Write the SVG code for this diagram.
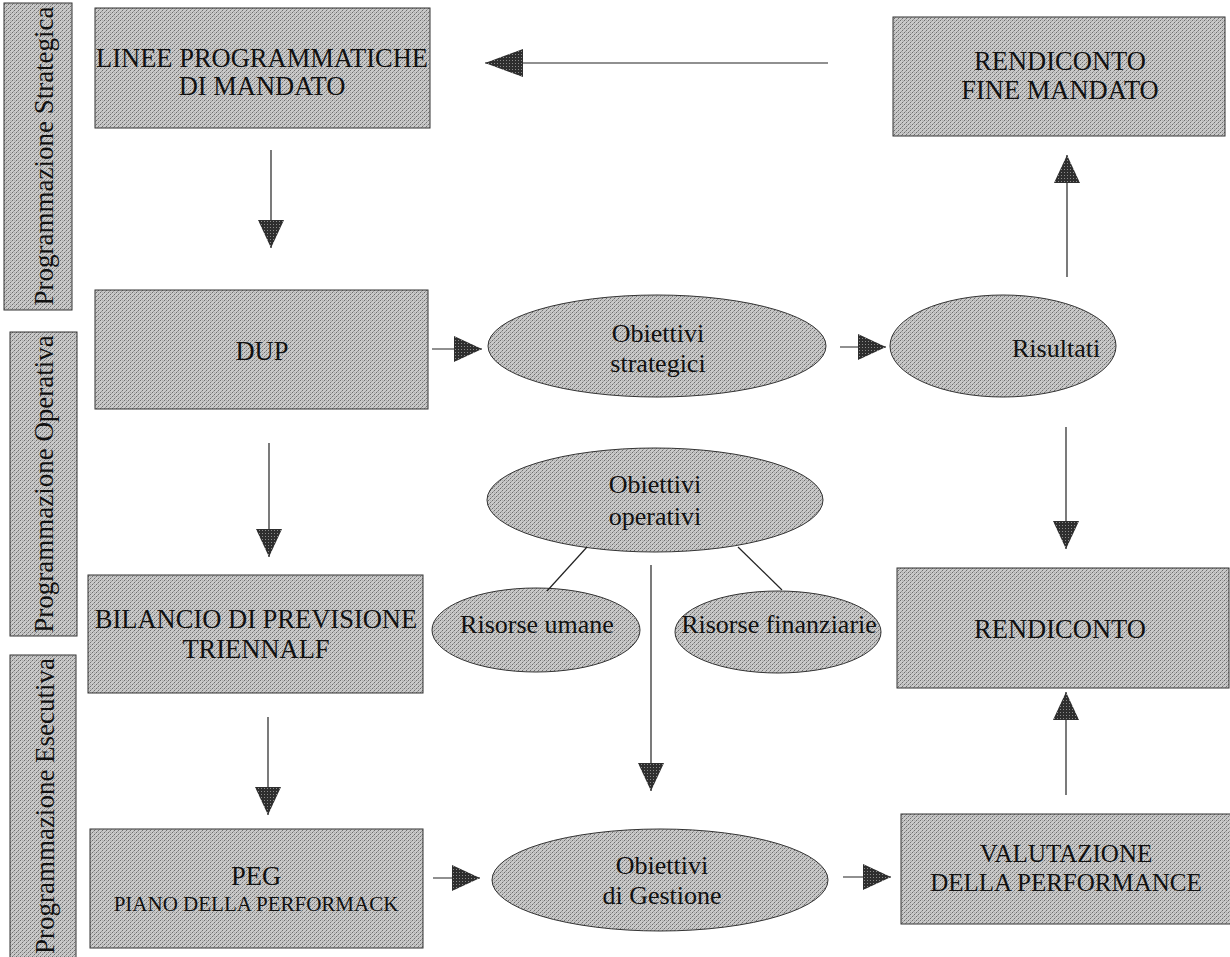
<svg xmlns="http://www.w3.org/2000/svg" width="1230" height="957" viewBox="0 0 1230 957">
<defs>
<pattern id="stip" width="4" height="4" patternUnits="userSpaceOnUse">
<rect width="4" height="4" fill="#c9c9c9"/>
<rect x="0" y="0" width="1" height="1" fill="#6e6e6e"/>
<rect x="2" y="2" width="1" height="1" fill="#6e6e6e"/>
<rect x="1" y="3" width="1" height="1" fill="#999"/>
<rect x="3" y="1" width="1" height="1" fill="#9f9f9f"/>
<rect x="2" y="0" width="1" height="1" fill="#b0b0b0"/>
</pattern>
<pattern id="darkstip" width="3" height="3" patternUnits="userSpaceOnUse">
<rect width="3" height="3" fill="#2e2e2e"/>
<rect x="1" y="1" width="1" height="1" fill="#8a8a8a"/>
</pattern>
<marker id="head" viewBox="0 0 28 26" refX="28" refY="13" markerWidth="28" markerHeight="26" markerUnits="userSpaceOnUse" orient="auto">
<polygon points="0,0 28,13 0,26" fill="url(#darkstip)"/>
</marker>
<marker id="bighead" viewBox="0 0 38 28" refX="38" refY="14" markerWidth="38" markerHeight="28" markerUnits="userSpaceOnUse" orient="auto">
<polygon points="0,0 38,14 0,28" fill="url(#darkstip)"/>
</marker>
</defs>
<style>
.box{fill:url(#stip);stroke:#333;stroke-width:1}
.ell{fill:url(#stip);stroke:#333;stroke-width:1}
.t{font-family:"Liberation Serif","DejaVu Serif","Times New Roman",serif;font-size:26.5px;fill:#111;text-anchor:middle}
.s{font-size:21px}
.e{font-size:26px}
.v{font-size:25px}
.side{font-family:"Liberation Serif","DejaVu Serif","Times New Roman",serif;font-size:27px;fill:#111;text-anchor:middle}
.c{stroke:#222;stroke-width:1.2;fill:none}
.a{marker-end:url(#head)}
.ab{marker-end:url(#bighead)}
</style>
<rect width="1230" height="957" fill="#fff"/>

<g id="bar-strategica">
<rect class="box" x="4" y="3" width="68" height="307"/>
<text class="side" transform="translate(53,156) rotate(-90)">Programmazione Strategica</text>
</g>
<g id="bar-operativa">
<rect class="box" x="10" y="332" width="67" height="304"/>
<text class="side" transform="translate(53,484) rotate(-90)">Programmazione Operativa</text>
</g>
<g id="bar-esecutiva">
<rect class="box" x="10" y="655" width="66" height="305"/>
<text class="side" transform="translate(54,806) rotate(-90)">Programmazione Esecutiva</text>
</g>

<g id="linee">
<rect class="box" x="95" y="8" width="335" height="120"/>
<text class="t" x="262" y="67">LINEE PROGRAMMATICHE</text>
<text class="t" x="262" y="95">DI MANDATO</text>
</g>
<g id="rendiconto-fine-mandato">
<rect class="box" x="893" y="17" width="332" height="119"/>
<text class="t" x="1060" y="70">RENDICONTO</text>
<text class="t" x="1060" y="99">FINE MANDATO</text>
</g>
<g id="dup">
<rect class="box" x="95" y="290" width="333" height="119"/>
<text class="t" x="262" y="360">DUP</text>
</g>
<g id="obiettivi-strategici">
<ellipse class="ell" cx="657" cy="346" rx="169" ry="51"/>
<text class="t e" x="658" y="342">Obiettivi</text>
<text class="t e" x="658" y="372">strategici</text>
</g>
<g id="risultati">
<ellipse class="ell" cx="1003" cy="346" rx="113" ry="51"/>
<text class="t e" x="1012" y="357" style="text-anchor:start">Risultati</text>
</g>
<g id="obiettivi-operativi">
<ellipse class="ell" cx="655" cy="500" rx="168" ry="52"/>
<text class="t e" x="655" y="493">Obiettivi</text>
<text class="t e" x="655" y="525">operativi</text>
</g>
<g id="risorse-umane">
<ellipse class="ell" cx="536" cy="630" rx="104" ry="42"/>
<text class="t e" x="537" y="633">Risorse umane</text>
</g>
<g id="risorse-finanziarie">
<ellipse class="ell" cx="778" cy="632" rx="103" ry="41"/>
<text class="t e" x="779" y="633">Risorse finanziarie</text>
</g>
<g id="bilancio">
<rect class="box" x="88" y="575" width="335" height="118"/>
<text class="t" x="256" y="628">BILANCIO DI PREVISIONE</text>
<text class="t" x="256" y="658">TRIENNALF</text>
</g>
<g id="rendiconto">
<rect class="box" x="897" y="568" width="332" height="120"/>
<text class="t" x="1060" y="638">RENDICONTO</text>
</g>
<g id="peg">
<rect class="box" x="90" y="829" width="333" height="119"/>
<text class="t" x="256" y="885">PEG</text>
<text class="t s" x="256" y="911">PIANO DELLA PERFORMACK</text>
</g>
<g id="obiettivi-gestione">
<ellipse class="ell" cx="660" cy="880" rx="168" ry="51"/>
<text class="t e" x="662" y="874">Obiettivi</text>
<text class="t e" x="662" y="904">di Gestione</text>
</g>
<g id="valutazione">
<rect class="box" x="901" y="814" width="332" height="110"/>
<text class="t v" x="1066" y="862">VALUTAZIONE</text>
<text class="t v" x="1066" y="891">DELLA PERFORMANCE</text>
</g>

<g id="connectors">
<line class="c ab" x1="828" y1="63" x2="485" y2="63"/>
<line class="c a" x1="271" y1="150" x2="271" y2="248"/>
<line class="c a" x1="432" y1="349" x2="482" y2="349"/>
<line class="c a" x1="840" y1="347" x2="886" y2="347"/>
<line class="c a" x1="1067" y1="277" x2="1067" y2="155"/>
<line class="c a" x1="1066" y1="427" x2="1066" y2="549"/>
<line class="c a" x1="269" y1="443" x2="269" y2="557"/>
<line class="c a" x1="268" y1="717" x2="268" y2="815"/>
<line class="c a" x1="651" y1="565" x2="651" y2="791"/>
<line class="c" x1="587" y1="547" x2="547" y2="591"/>
<line class="c" x1="738" y1="547" x2="782" y2="590"/>
<line class="c a" x1="433" y1="878" x2="480" y2="878"/>
<line class="c a" x1="843" y1="877" x2="891" y2="877"/>
<line class="c a" x1="1066" y1="795" x2="1066" y2="692"/>
</g>
</svg>
